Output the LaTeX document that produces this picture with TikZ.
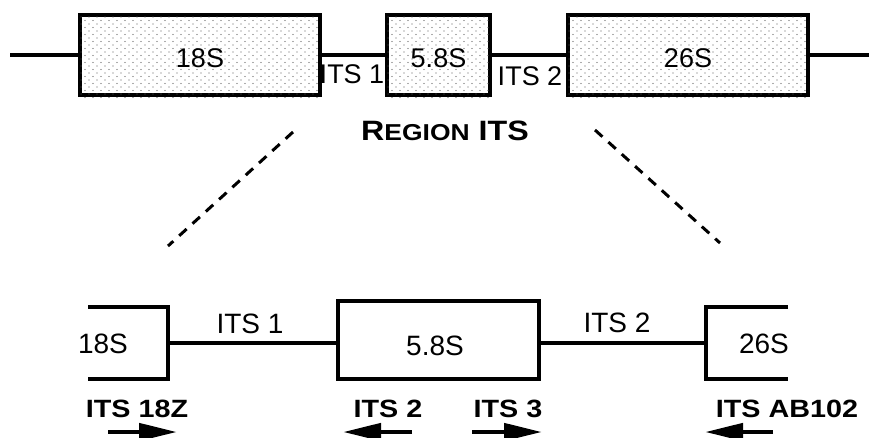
\documentclass[tikz,border=0pt]{standalone}
\usepackage{fontspec}
\setmainfont{Liberation Sans}
\newfontfamily\widebf[FakeStretch=1.15]{Liberation Sans}
\usetikzlibrary{arrows.meta}

\begin{document}
\begin{tikzpicture}[x=1pt,y=-1pt,line width=3.5pt,
  gene/.style={draw,line width=4pt,minimum height=80pt,
    text height=24pt,text depth=0pt,inner sep=0pt,font=\fontsize{27}{30}\selectfont},
  part/.style={minimum height=72pt,inner sep=0pt,outer sep=0pt},
  txt/.style={anchor=base,inner sep=0pt,font=\fontsize{28}{30}\selectfont},
  primer/.style={anchor=base,inner sep=0pt,font=\widebf\bfseries\fontsize{25}{27}\selectfont},
  parrow/.style={line width=4.5pt,-{Triangle[length=38pt,width=17pt]}},
  zoomline/.style={line width=3pt,dash pattern=on 10pt off 8pt}]
\useasboundingbox (0,0) rectangle (869,437);
% whole region
\node[gene,minimum width=240pt] (b18) at (200,55) {};
\node[gene,minimum width=103pt] (b58) at (438.5,55) {};
\node[gene,minimum width=240pt] (b26) at (688,55) {};
\foreach \b in {b18,b58,b26}{\begin{scope}
\clip ([shift={(2.5,-2.5)}]\b.north west) rectangle ([shift={(-2.5,2.5)}]\b.south east);
\begin{scope}[shift={(\b.north west)}]
\foreach \i in {0,...,30}\foreach \j in {0,...,11}{
  \fill[black!65] (8*\i+3,7*\j+4) circle (0.55pt);
  \fill[black!65] (8*\i+7,7*\j+7.5) circle (0.55pt);}
\end{scope}\end{scope}}
\node[gene,draw=none,minimum width=240pt] at (b18) {18S};
\node[gene,draw=none,minimum width=103pt] at (b58) {5.8S};
\node[gene,draw=none,minimum width=240pt] at (b26) {26S};
\coordinate (lend) at (10,55);\coordinate (rend) at (869,55);
\draw (lend) -- (b18) -- (b58) -- (b26) -- (rend);
\node[txt,font=\fontsize{27}{30}\selectfont] (its1) at (352,83) {ITS 1};
\node[txt,font=\fontsize{27}{30}\selectfont] (its2) at (530,85) {ITS 2};
\node[anchor=base,inner sep=0pt,font=\widebf\bfseries] (reg) at (445,140)
  {{\fontsize{28}{30}\selectfont R}{\fontsize{23}{30}\selectfont EGION}{\fontsize{28}{30}\selectfont\ ITS}};
% zoom lines
\coordinate (zl1) at (293,132);\coordinate (zl2) at (168,246);
\coordinate (zr1) at (595,130);\coordinate (zr2) at (720,243);
\draw[zoomline] (zl1) -- (zl2);\draw[zoomline] (zr1) -- (zr2);
% detail
\node[part,minimum width=80pt] (c18) at (128,343) {};
\node[draw,line width=4pt,minimum width=201pt,minimum height=78pt,inner sep=0pt] (c58) at (438.5,340) {};
\node[part,minimum width=82pt] (c26) at (747,343) {};
\draw[line width=4pt] (c18.north west) -- (c18.north east) -- (c18.south east) -- (c18.south west);
\draw[line width=4pt] (c26.north east) -- (c26.north west) -- (c26.south west) -- (c26.south east);
\draw (c18.east) -- (c18.east -| c58.west);\draw (c58.east |- c26.west) -- (c26.west);
\node[txt] (t18) at (103,353) {18S};
\node[txt] (t58) at (435,355) {5.8S};
\node[txt] (t26) at (764,353) {26S};
\node[txt] (ti1) at (250,333) {ITS 1};
\node[txt] (ti2) at (617,332) {ITS 2};
% primers
\node[primer] (p18z) at (137,417) {ITS 18Z};
\node[primer] (p2) at (388,417) {ITS 2};
\node[primer] (p3) at (508,417) {ITS 3};
\node[primer] (pab) at (787,417) {ITS AB102};
\coordinate (a1) at (108,432);\coordinate (a1t) at (177,432);
\coordinate (a2) at (412,432);\coordinate (a2t) at (343,432);
\coordinate (a3) at (472,432);\coordinate (a3t) at (542,432);
\coordinate (a4) at (773,432);\coordinate (a4t) at (705,432);
\foreach \s/\t in {a1/a1t,a2/a2t,a3/a3t,a4/a4t}\draw[parrow] (\s) -- (\t);
\end{tikzpicture}
\end{document}
